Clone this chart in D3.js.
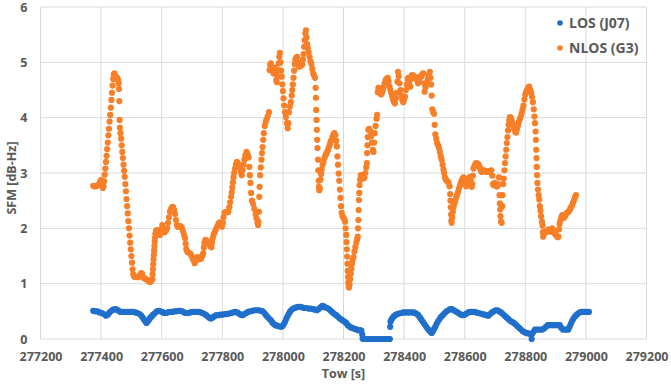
<!DOCTYPE html>
<html>
<head>
<meta charset="utf-8">
<script src="https://cdn.jsdelivr.net/npm/d3@7"></script>
<style>
  body { margin: 0; background: #fff; }
  svg { display: block; font-family: "Open Sans", "Noto Sans", sans-serif; }
</style>
</head>
<body>
<div id="chart"></div>
<script>
// Axis ticks
const xTicks = [277200, 277400, 277600, 277800, 278000, 278200, 278400, 278600, 278800, 279000, 279200];
const yTicks = [0, 1, 2, 3, 4, 5, 6];
const seriesNames = ['LOS (J07)', 'NLOS (G3)'];

// LOS (J07): [tow, SFM]
const losPoints = [
  [277374,0.51],[277381,0.50],[277388,0.50],[277395,0.48],[277402,0.47],[277409,0.45],[277416,0.42],[277422,0.44],
  [277428,0.48],[277434,0.51],[277440,0.53],[277446,0.54],[277452,0.53],[277458,0.51],[277464,0.49],[277471,0.49],
  [277478,0.49],[277485,0.49],[277492,0.49],[277499,0.49],[277506,0.49],[277513,0.48],[277520,0.47],[277527,0.45],
  [277533,0.42],[277538,0.38],[277543,0.34],[277547,0.31],[277550,0.29],[277554,0.32],[277558,0.35],[277562,0.38],
  [277567,0.41],[277572,0.44],[277578,0.47],[277584,0.50],[277590,0.51],[277596,0.50],[277602,0.49],[277608,0.47],
  [277614,0.47],[277620,0.48],[277627,0.49],[277634,0.49],[277641,0.50],[277648,0.50],[277655,0.51],[277662,0.51],
  [277668,0.50],[277674,0.48],[277680,0.47],[277687,0.47],[277694,0.48],[277701,0.49],[277708,0.49],[277715,0.49],
  [277722,0.49],[277729,0.48],[277735,0.47],[277741,0.45],[277747,0.43],[277753,0.40],[277758,0.38],[277763,0.37],
  [277768,0.39],[277774,0.41],[277780,0.43],[277787,0.43],[277794,0.44],[277801,0.44],[277808,0.45],[277815,0.45],
  [277822,0.46],[277829,0.47],[277836,0.48],[277843,0.49],[277849,0.48],[277855,0.46],[277861,0.44],[277867,0.43],
  [277873,0.45],[277879,0.47],[277885,0.49],[277892,0.50],[277899,0.51],[277906,0.52],[277913,0.52],[277920,0.52],
  [277927,0.51],[277933,0.50],[277939,0.47],[277944,0.43],[277949,0.40],[277954,0.37],[277960,0.34],[277965,0.30],
  [277970,0.27],[277975,0.25],[277981,0.24],[277987,0.23],[277993,0.22],[277998,0.23],[278003,0.27],[278007,0.31],
  [278011,0.36],[278015,0.41],[278019,0.45],[278023,0.49],[278027,0.52],[278032,0.54],[278038,0.56],[278044,0.57],
  [278050,0.58],[278057,0.58],[278064,0.57],[278071,0.56],[278078,0.56],[278085,0.55],[278092,0.55],[278099,0.54],
  [278106,0.53],[278112,0.52],[278118,0.54],[278124,0.57],[278130,0.60],[278135,0.59],[278140,0.57],[278146,0.56],
  [278152,0.54],[278158,0.51],[278164,0.48],[278170,0.45],[278176,0.43],[278182,0.40],[278188,0.37],[278194,0.35],
  [278199,0.33],[278204,0.31],[278209,0.29],[278214,0.25],[278219,0.23],[278224,0.21],[278229,0.20],[278234,0.19],
  [278239,0.18],[278244,0.17],[278249,0.16],[278254,0.16],[278259,0.15],[278262,0.08],[278263,0.01],
  [278266,0],[278273,0],[278280,0],[278287,0],[278294,0],[278301,0],[278308,0],[278315,0],[278322,0],[278329,0],
  [278336,0],[278343,0],[278350,0],[278353,0],
  [278354,0.22],[278355,0.31],[278358,0.35],[278362,0.38],[278366,0.41],[278371,0.43],[278377,0.45],[278383,0.46],
  [278390,0.47],[278397,0.48],[278404,0.48],[278411,0.48],[278418,0.48],[278425,0.48],[278432,0.48],[278437,0.47],
  [278442,0.45],[278447,0.43],[278452,0.39],[278457,0.35],[278462,0.31],[278467,0.27],[278472,0.23],[278477,0.19],
  [278482,0.16],[278487,0.13],[278491,0.11],[278495,0.14],[278499,0.18],[278503,0.22],[278507,0.27],[278512,0.32],
  [278517,0.36],[278522,0.40],[278528,0.43],[278534,0.47],[278540,0.50],[278546,0.52],[278552,0.54],[278558,0.54],
  [278564,0.52],[278570,0.50],[278576,0.48],[278582,0.46],[278588,0.44],[278594,0.43],[278600,0.44],[278606,0.46],
  [278612,0.48],[278618,0.49],[278624,0.49],[278631,0.49],[278638,0.48],[278645,0.47],[278652,0.46],[278659,0.45],
  [278666,0.44],[278672,0.43],[278678,0.42],[278684,0.45],[278690,0.48],[278696,0.50],[278702,0.52],[278708,0.52],
  [278714,0.50],[278720,0.48],[278726,0.45],[278732,0.42],[278738,0.39],[278744,0.36],[278750,0.33],[278756,0.31],
  [278762,0.29],[278768,0.26],[278774,0.23],[278780,0.20],[278786,0.17],[278792,0.14],[278798,0.12],[278804,0.11],
  [278810,0.10],[278816,0.09],[278821,0.00],[278822,0.09],[278827,0.13],[278832,0.17],[278838,0.17],[278844,0.17],
  [278850,0.17],[278856,0.17],[278862,0.19],[278868,0.22],[278874,0.25],[278880,0.25],[278887,0.25],[278894,0.25],
  [278901,0.25],[278908,0.25],[278914,0.25],[278919,0.20],[278924,0.17],[278930,0.17],[278936,0.17],[278942,0.17],
  [278946,0.22],[278950,0.27],[278954,0.32],[278958,0.36],[278963,0.40],[278968,0.43],[278974,0.46],[278980,0.48],
  [278986,0.49],[278992,0.49],[278998,0.49],[279004,0.49],[279010,0.49]
];

// NLOS (G3): [tow, SFM]
const nlosPoints = [
  [277374,2.77],[277378,2.76],[277382,2.76],[277386,2.77],[277390,2.78],[277394,2.80],[277397,2.85],[277400,2.87],
  [277403,2.78],[277406,2.73],[277408,2.76],[277410,2.85],[277412,2.97],[277414,3.08],[277416,3.20],[277418,3.31],
  [277420,3.43],[277422,3.55],[277424,3.68],[277426,3.80],[277428,3.93],[277430,4.05],[277432,4.18],[277434,4.32],
  [277436,4.45],[277438,4.58],[277440,4.70],[277442,4.78],[277444,4.80],[277447,4.76],[277450,4.73],[277453,4.72],
  [277456,4.68],[277458,4.62],[277459,4.52],[277460,4.30],[277461,3.96],[277462,3.82],[277464,3.72],[277466,3.62],
  [277468,3.50],[277470,3.38],[277472,3.27],[277474,3.15],[277476,3.04],[277478,2.93],[277480,2.80],[277482,2.67],
  [277484,2.53],[277486,2.40],[277488,2.27],[277490,2.13],[277492,2.00],[277494,1.87],[277496,1.74],[277498,1.62],
  [277500,1.50],[277502,1.38],[277504,1.26],[277506,1.17],[277509,1.13],[277513,1.12],[277518,1.12],[277523,1.12],
  [277528,1.15],[277532,1.19],[277535,1.18],[277538,1.11],[277543,1.10],[277548,1.08],[277553,1.07],[277558,1.04],
  [277562,1.03],[277566,1.05],[277569,1.08],[277570,1.17],[277571,1.26],[277572,1.35],[277573,1.44],[277574,1.52],
  [277575,1.60],[277576,1.68],[277577,1.76],[277578,1.83],[277579,1.90],[277581,1.95],[277584,1.97],[277587,1.94],
  [277590,1.90],[277594,1.88],[277598,1.98],[277602,2.06],[277606,1.98],[277610,1.93],[277614,1.96],[277618,2.00],
  [277621,2.10],[277624,2.20],[277627,2.30],[277631,2.35],[277635,2.39],[277638,2.38],[277641,2.33],[277644,2.26],
  [277647,2.15],[277650,2.06],[277653,2.03],[277658,2.03],[277662,2.04],[277666,2.02],[277670,1.95],[277674,1.88],
  [277677,1.82],[277679,1.72],[277681,1.63],[277684,1.58],[277688,1.56],[277693,1.55],[277697,1.52],[277701,1.47],
  [277705,1.42],[277709,1.37],[277713,1.42],[277717,1.48],[277721,1.47],[277725,1.44],[277730,1.45],[277734,1.50],
  [277737,1.55],[277739,1.65],[277741,1.74],[277744,1.79],[277748,1.78],[277752,1.75],[277756,1.72],[277760,1.68],
  [277764,1.66],[277766,1.74],[277768,1.82],[277771,1.88],[277775,1.93],[277779,1.98],[277783,2.03],[277787,2.08],
  [277791,2.11],[277795,2.08],[277799,2.03],[277802,2.10],[277804,2.20],[277807,2.28],[277812,2.30],[277816,2.29],
  [277820,2.30],[277823,2.38],[277826,2.47],[277829,2.57],[277831,2.65],[277833,2.74],[277835,2.83],[277837,2.92],
  [277839,3.00],[277842,3.08],[277845,3.15],[277848,3.20],[277851,3.18],[277855,3.13],[277858,3.10],[277861,3.02],
  [277864,2.96],[277867,3.05],[277870,3.15],[277873,3.24],[277876,3.32],[277880,3.38],[277884,3.33],[277887,3.28],
  [277889,3.11],[277891,2.96],[277893,2.82],[277895,2.64],[277898,2.50],[277902,2.44],[277906,2.35],[277910,2.25],
  [277913,2.18],[277916,2.10],[277918,2.06],[277919,2.12],[277921,2.30],[277922,2.57],[277923,2.75],[277925,2.96],
  [277927,3.10],[277929,3.24],[277931,3.36],[277933,3.47],[277935,3.60],[277937,3.72],[277940,3.85],[277943,3.92],
  [277946,3.97],[277950,4.03],[277954,4.10],[277956,4.86],[277958,4.95],[277960,4.98],[277963,4.90],[277966,4.85],
  [277969,4.80],[277972,4.90],[277975,4.80],[277978,4.68],[277980,4.64],[277982,4.75],[277984,4.86],[277986,4.98],
  [277988,5.10],[277990,5.17],[277992,5.00],[277994,4.85],[277996,4.74],[277998,4.60],[278000,4.48],[278002,4.35],
  [278004,4.22],[278007,4.10],[278010,4.01],[278013,3.90],[278016,3.81],[278018,3.90],[278020,4.10],[278023,4.20],
  [278026,4.28],[278029,4.40],[278031,4.50],[278033,4.60],[278035,4.72],[278037,4.85],[278039,4.97],[278041,5.04],
  [278044,5.08],[278047,5.10],[278050,5.00],[278053,4.92],[278057,4.93],[278061,4.95],[278064,4.96],[278066,5.05],
  [278068,5.15],[278070,5.28],[278072,5.40],[278074,5.52],[278076,5.58],[278078,5.45],[278080,5.33],[278082,5.26],
  [278085,5.18],[278088,5.10],[278091,5.02],[278094,4.97],[278097,4.88],[278100,4.80],[278103,4.76],[278106,4.72],
  [278108,4.54],[278109,4.36],[278110,4.14],[278111,3.96],[278112,3.78],[278113,3.60],[278114,3.45],[278116,3.24],
  [278117,3.05],[278118,2.86],[278119,2.75],[278120,2.69],[278122,2.72],[278124,2.88],[278126,2.98],[278128,3.06],
  [278131,3.15],[278134,3.20],[278137,3.27],[278140,3.31],[278143,3.35],[278146,3.38],[278149,3.42],[278152,3.47],
  [278155,3.52],[278158,3.57],[278161,3.60],[278164,3.65],[278167,3.70],[278170,3.72],[278173,3.68],[278176,3.58],
  [278178,3.48],[278180,3.30],[278182,3.15],[278184,2.99],[278186,2.86],[278188,2.70],[278190,2.55],[278192,2.40],
  [278194,2.28],[278197,2.22],[278200,2.19],[278203,2.16],[278205,2.12],[278207,2.00],[278209,1.88],[278210,1.75],
  [278211,1.62],[278212,1.49],[278213,1.36],[278214,1.23],[278215,1.12],[278216,1.02],[278217,0.96],[278218,0.93],
  [278220,0.98],[278222,1.08],[278224,1.18],[278226,1.27],[278228,1.36],[278230,1.43],[278233,1.48],[278236,1.58],
  [278239,1.66],[278242,1.74],[278245,1.80],[278247,1.85],[278248,2.00],[278249,2.15],[278250,2.33],[278251,2.51],
  [278252,2.64],[278253,2.78],[278255,2.88],[278257,2.96],[278260,2.95],[278263,2.92],[278266,2.90],[278269,2.92],
  [278272,3.00],[278275,3.10],[278277,3.18],[278278,3.36],[278279,3.50],[278280,3.65],[278282,3.78],[278285,3.80],
  [278288,3.76],[278291,3.66],[278294,3.55],[278297,3.42],[278299,3.38],[278301,3.55],[278303,3.72],[278306,3.85],
  [278309,3.98],[278311,4.05],[278313,4.46],[278315,4.54],[278318,4.50],[278321,4.45],[278324,4.42],[278327,4.45],
  [278330,4.50],[278333,4.56],[278336,4.62],[278339,4.68],[278342,4.70],[278346,4.72],[278349,4.65],[278352,4.56],
  [278355,4.50],[278358,4.44],[278361,4.38],[278364,4.32],[278367,4.28],[278370,4.26],[278373,4.35],[278376,4.45],
  [278378,4.65],[278380,4.83],[278382,4.75],[278385,4.62],[278388,4.50],[278391,4.40],[278394,4.32],[278397,4.28],
  [278400,4.33],[278403,4.38],[278406,4.50],[278409,4.60],[278412,4.70],[278414,4.72],[278417,4.60],[278420,4.56],
  [278423,4.70],[278426,4.77],[278430,4.76],[278434,4.74],[278438,4.72],[278442,4.68],[278446,4.62],[278449,4.66],
  [278452,4.74],[278456,4.74],[278460,4.78],[278463,4.80],[278466,4.62],[278468,4.47],[278471,4.55],[278474,4.62],
  [278478,4.70],[278482,4.78],[278485,4.83],[278487,4.72],[278489,4.60],[278491,4.40],[278493,4.15],[278496,4.10],
  [278499,4.07],[278501,3.87],[278503,3.70],[278506,3.62],[278509,3.54],[278512,3.50],[278515,3.45],[278518,3.38],
  [278521,3.30],[278524,3.24],[278527,3.15],[278530,3.06],[278532,3.00],[278535,2.92],[278538,2.88],[278541,2.86],
  [278544,2.84],[278547,2.82],[278550,2.76],[278552,2.62],[278553,2.50],[278554,2.38],[278555,2.25],[278556,2.14],
  [278557,2.10],[278559,2.20],[278561,2.30],[278563,2.38],[278566,2.45],[278569,2.50],[278572,2.56],[278575,2.61],
  [278578,2.66],[278581,2.72],[278584,2.77],[278587,2.82],[278590,2.86],[278593,2.90],[278596,2.92],[278599,2.90],
  [278602,2.80],[278605,2.76],[278608,2.82],[278611,2.85],[278614,2.90],[278617,2.93],[278620,2.86],[278623,2.75],
  [278625,2.80],[278627,2.95],[278629,3.08],[278632,3.12],[278635,3.16],[278638,3.18],[278641,3.17],[278644,3.16],
  [278647,3.14],[278650,3.10],[278653,3.05],[278656,3.02],[278660,3.04],[278664,3.05],[278668,3.04],[278672,3.02],
  [278676,3.02],[278680,3.03],[278684,3.04],[278688,3.05],[278691,2.95],[278693,2.80],[278696,2.78],[278699,2.82],
  [278702,2.80],[278705,2.76],[278708,2.76],[278711,2.80],[278713,2.92],[278715,2.60],[278716,2.45],[278717,2.34],
  [278718,2.22],[278720,2.12],[278722,2.10],[278724,2.40],[278725,2.60],[278727,2.80],[278729,2.90],[278731,3.05],
  [278733,3.18],[278735,3.30],[278737,3.42],[278739,3.54],[278741,3.65],[278743,3.77],[278745,3.87],[278747,3.95],
  [278749,4.01],[278752,4.00],[278755,3.95],[278758,3.90],[278761,3.84],[278764,3.78],[278767,3.74],[278770,3.73],
  [278773,3.80],[278776,3.86],[278779,3.92],[278782,3.97],[278785,4.02],[278788,4.08],[278791,4.15],[278794,4.22],
  [278797,4.33],[278800,4.42],[278803,4.47],[278806,4.50],[278810,4.55],[278813,4.56],[278816,4.50],[278819,4.45],
  [278822,4.38],[278825,4.28],[278828,4.15],[278830,4.02],[278832,3.90],[278834,3.75],[278835,3.60],[278836,3.42],
  [278837,3.27],[278838,3.11],[278839,2.96],[278840,2.82],[278842,2.70],[278844,2.60],[278846,2.52],[278848,2.40],
  [278850,2.32],[278852,2.22],[278855,2.12],[278857,2.05],[278858,1.93],[278859,1.85],[278862,1.90],[278865,1.94],
  [278868,1.93],[278871,1.95],[278874,1.96],[278877,1.98],[278880,1.96],[278883,1.94],[278886,1.97],[278889,2.00],
  [278892,1.96],[278895,1.92],[278898,1.90],[278901,1.88],[278904,1.86],[278907,1.84],[278909,1.85],[278911,1.98],
  [278913,2.08],[278916,2.14],[278919,2.20],[278922,2.24],[278925,2.22],[278928,2.19],[278931,2.22],[278934,2.25],
  [278937,2.28],[278940,2.29],[278943,2.30],[278946,2.33],[278949,2.36],[278952,2.39],[278955,2.42],[278958,2.47],
  [278961,2.51],[278964,2.56],[278967,2.60]
];

const colors = { los: '#1f6fcb', nlos: '#f77f27' };
const width = 671;
const height = 387;
const margin = { top: 7, right: 24.5, bottom: 48, left: 40.5 };
const textColor = '#595959';
const gridColor = '#d9d9d9';
const dotRadius = 3.1;

const svg = d3.select('#chart').append('svg').attr('width', width).attr('height', height);

const x = d3.scaleLinear().domain([277200, 279200]).range([margin.left, width - margin.right]);
const y = d3.scaleLinear().domain([0, 6]).range([height - margin.bottom, margin.top]);

// Gridlines
svg.append('g')
  .selectAll('line')
  .data(xTicks)
  .join('line')
  .attr('x1', (d) => x(d)).attr('x2', (d) => x(d))
  .attr('y1', y(6)).attr('y2', y(0))
  .attr('stroke', gridColor).attr('stroke-width', 1);

svg.append('g')
  .selectAll('line')
  .data(yTicks)
  .join('line')
  .attr('x1', x(277200)).attr('x2', x(279200))
  .attr('y1', (d) => y(d)).attr('y2', (d) => y(d))
  .attr('stroke', gridColor).attr('stroke-width', 1);

// Axes (labels only)
const xAxis = svg.append('g')
  .attr('transform', `translate(0,${y(0)})`)
  .call(d3.axisBottom(x).tickValues(xTicks).tickSize(0).tickPadding(13).tickFormat(d3.format('d')));
xAxis.select('.domain').remove();

const yAxis = svg.append('g')
  .attr('transform', `translate(${x(277200)},0)`)
  .call(d3.axisLeft(y).tickValues(yTicks).tickSize(0).tickPadding(13).tickFormat(d3.format('d')));
yAxis.select('.domain').remove();

svg.selectAll('.tick text')
  .attr('fill', textColor)
  .style('font-size', '12.5px')
  .style('font-weight', 700)
  .style('font-family', '"Open Sans", sans-serif');

// Series points
svg.append('g')
  .selectAll('circle')
  .data(losPoints)
  .join('circle')
  .attr('cx', (d) => x(d[0]))
  .attr('cy', (d) => y(d[1]))
  .attr('r', dotRadius)
  .attr('fill', colors.los);

svg.append('g')
  .selectAll('circle')
  .data(nlosPoints)
  .join('circle')
  .attr('cx', (d) => x(d[0]))
  .attr('cy', (d) => y(d[1]))
  .attr('r', dotRadius)
  .attr('fill', colors.nlos);

// Axis titles
svg.append('text')
  .attr('x', (x(277200) + x(279200)) / 2)
  .attr('y', 378)
  .attr('text-anchor', 'middle')
  .attr('fill', textColor)
  .style('font-size', '12.5px')
  .style('font-weight', 700)
  .text('Tow [s]');

svg.append('text')
  .attr('transform', `translate(16,${y(3) + 5}) rotate(-90)`)
  .attr('text-anchor', 'middle')
  .attr('fill', textColor)
  .style('font-size', '12.5px')
  .style('font-weight', 700)
  .text('SFM [dB-Hz]');

// Legend
const legend = svg.append('g').attr('transform', 'translate(560,0)');
const legendRows = legend.selectAll('g')
  .data(seriesNames)
  .join('g')
  .attr('transform', (d, i) => `translate(0,${23 + i * 25})`);
legendRows.append('circle')
  .attr('r', 2.8)
  .attr('fill', (d, i) => (i === 0 ? colors.los : colors.nlos));
legendRows.append('text')
  .attr('x', 9)
  .attr('dy', '0.35em')
  .attr('fill', textColor)
  .style('font-size', '14px')
  .style('font-weight', 700)
  .text((d) => d);
</script>
</body>
</html>
